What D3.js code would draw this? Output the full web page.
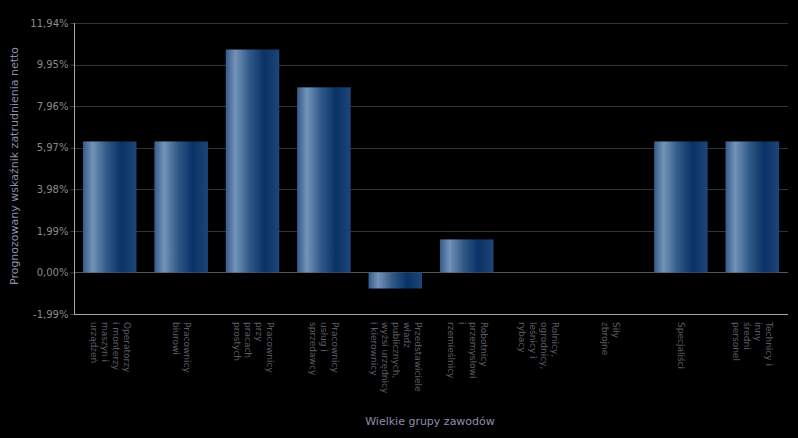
<!DOCTYPE html>
<html><head><meta charset="utf-8">
<script src="https://cdn.jsdelivr.net/npm/d3@7"></script>
<style>html,body{margin:0;padding:0;background:#000;}svg{display:block;}</style>
</head><body>
<script>
const categories = [
  ["Operatorzy","i monterzy","maszyn i","urządzeń"],
  ["Pracownicy","biurowi"],
  ["Pracownicy","przy","pracach","prostych"],
  ["Pracownicy","usług i","sprzedawcy"],
  ["Przedstawiciele","władz","publicznych,","wyżsi urzędnicy","i kierownicy"],
  ["Robotnicy","przemysłowi","i","rzemieślnicy"],
  ["Rolnicy,","ogrodnicy,","leśnicy i","rybacy"],
  ["Siły","zbrojne"],
  ["Specjaliści"],
  ["Technicy i","inny","średni","personel"]
];
const values = [6.27, 6.27, 10.67, 8.86, -0.77, 1.58, 0, 0, 6.27, 6.27];
const tickValues = [-1.99, 0, 1.99, 3.98, 5.97, 7.96, 9.95, 11.94];
const yTitle = "Prognozowany wskaźnik zatrudnienia netto";
const xTitle = "Wielkie grupy zawodów";

const W = 798, H = 438;
const m = {left: 74, right: 10, top: 23, bottom: 124};
const svg = d3.select("body").append("svg").attr("width", W).attr("height", H)
  .style("background", "#000");

const defs = svg.append("defs");
const grad = defs.append("linearGradient").attr("id", "barGrad")
  .attr("x1", "0%").attr("x2", "100%").attr("y1", "0%").attr("y2", "0%");
[[0, "#35598a"], [0.18, "#7393b8"], [0.45, "#2f5887"], [0.72, "#0a3266"], [1, "#1d4577"]]
  .forEach(([o, c]) => grad.append("stop").attr("offset", o).attr("stop-color", c));

const x = d3.scaleBand().domain(d3.range(categories.length))
  .range([m.left, W - m.right]).paddingInner(0.25).paddingOuter(0.125);
const y = d3.scaleLinear().domain([-1.99, 11.94]).range([H - m.bottom, m.top]);
const fmt = v => v.toFixed(2).replace(".", ",") + "%";

// gridlines
svg.append("g").selectAll("line").data(tickValues).join("line")
  .attr("x1", m.left).attr("x2", W - m.right)
  .attr("y1", d => Math.round(y(d)) + 0.5).attr("y2", d => Math.round(y(d)) + 0.5)
  .attr("stroke", d => d === 0 ? "#555" : "#333").attr("stroke-width", 1);

// y axis
const yAxis = svg.append("g").attr("transform", `translate(${m.left + 0.5},0)`)
  .call(d3.axisLeft(y).tickValues(tickValues).tickFormat(fmt).tickSize(4).tickPadding(2));
yAxis.select(".domain").remove();
yAxis.selectAll(".tick line").attr("stroke", "#444");
yAxis.selectAll("text").attr("fill", "#8a8a8a").style("font-family", "DejaVu Sans")
  .style("font-size", "10px");

// bars
svg.append("g").selectAll("rect").data(values).join("rect")
  .attr("x", (d, i) => x(i)).attr("width", x.bandwidth())
  .attr("y", d => y(Math.max(0, d))).attr("height", d => Math.abs(y(d) - y(0)))
  .attr("fill", "url(#barGrad)");

// axis lines
svg.append("line").attr("x1", m.left + 0.5).attr("x2", m.left + 0.5)
  .attr("y1", y(11.94)).attr("y2", y(-1.99) + 0.5).attr("stroke", "#a8a8a8");
svg.append("line").attr("x1", m.left).attr("x2", W - m.right)
  .attr("y1", Math.round(y(-1.99)) + 0.5).attr("y2", Math.round(y(-1.99)) + 0.5)
  .attr("stroke", "#a8a8a8");

// category labels
const lh = 11;
const cat = svg.append("g").selectAll("g").data(categories).join("g")
  .attr("transform", (d, i) => `translate(${x(i) + x.bandwidth() / 2},${y(-1.99) + 8}) rotate(90)`);
cat.each(function(lines) {
  const g = d3.select(this);
  const n = lines.length;
  lines.forEach((t, k) => {
    g.append("text").attr("x", 0).attr("y", (k - (n - 1) / 2) * lh)
      .attr("dominant-baseline", "middle")
      .attr("fill", "#5c5c64").style("font-family", "DejaVu Sans").style("font-size", "9px")
      .text(t);
  });
});

// titles
svg.append("text").attr("transform", `translate(18,166) rotate(-90)`)
  .attr("text-anchor", "middle").attr("fill", "#8e8eae")
  .style("font-family", "DejaVu Sans").style("font-size", "11px").text(yTitle);
svg.append("text").attr("x", 430).attr("y", 425).attr("text-anchor", "middle")
  .attr("fill", "#8e8eae").style("font-family", "DejaVu Sans").style("font-size", "11px").text(xTitle);
</script>
</body></html>
